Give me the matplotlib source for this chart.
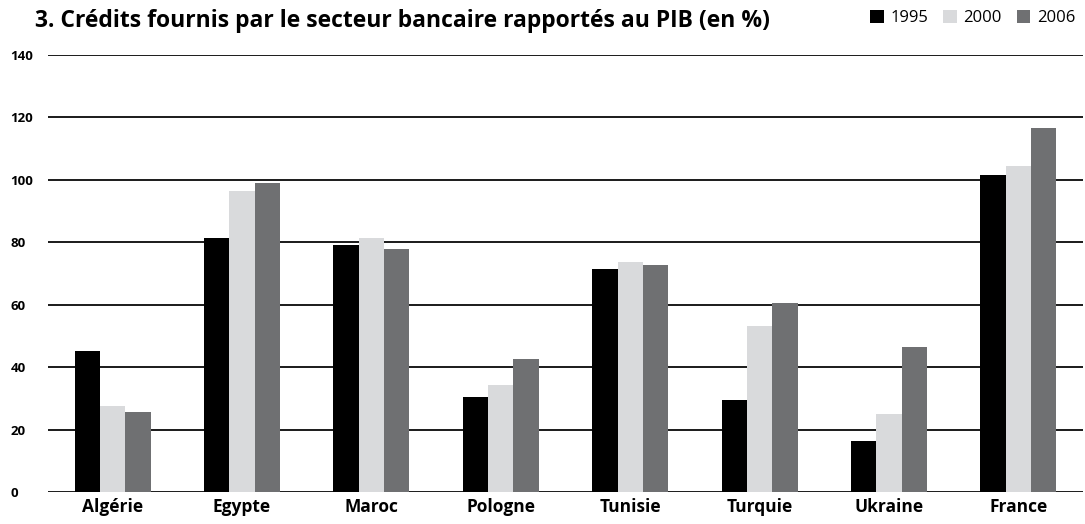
import matplotlib.pyplot as plt
import numpy as np
from matplotlib.patches import Patch

plt.rcParams['font.family'] = ['Open Sans', 'DejaVu Sans']

# Données
pays = ['Algérie', 'Egypte', 'Maroc', 'Pologne', 'Tunisie', 'Turquie', 'Ukraine', 'France']
annees = ['1995', '2000', '2006']
v1995 = [45.1, 81.5, 79.0, 30.4, 71.6, 29.5, 16.5, 101.5]
v2000 = [27.5, 96.4, 81.3, 34.4, 73.8, 53.2, 25.0, 104.4]
v2006 = [25.7, 98.9, 78.0, 42.6, 72.6, 60.5, 46.5, 116.5]
couleurs = ['#000000', '#d9dadc', '#6f7072']

fig = plt.figure(figsize=(10.85, 5.24), dpi=100)
ax = fig.add_axes([0.0442, 0.061, 0.954, 0.834])

x = np.arange(len(pays))
w = 0.196
for i, (vals, c) in enumerate(zip([v1995, v2000, v2006], couleurs)):
    ax.bar(x + (i - 1) * w, vals, w, color=c, zorder=2)

ax.set_xlim(-0.5, 7.5)
ax.set_ylim(0, 140)
ax.set_yticks(range(0, 141, 20))
ax.set_xticks(x)
ax.set_xticklabels(pays, fontsize=12.5, fontweight='bold')
ax.tick_params(axis='x', length=0, pad=4)
ax.tick_params(axis='y', length=0, pad=27, labelsize=9.5)
for lab in ax.get_yticklabels():
    lab.set_horizontalalignment('left')
    lab.set_fontweight('bold')

ax.grid(axis='y', color='#1a1a1a', lw=1.4)
ax.set_axisbelow(True)
for s in ax.spines.values():
    s.set_visible(False)

fig.text(0.032, 0.96, '3. Crédits fournis par le secteur bancaire rapportés au PIB (en %)',
         fontsize=16.5, fontweight='bold', va='center', ha='left')

handles = [Patch(facecolor=c, label=a) for c, a in zip(couleurs, annees)]
fig.legend(handles=handles, ncol=3, loc='center right', bbox_to_anchor=(1.0, 0.965),
           frameon=False, fontsize=12, handlelength=0.8, handleheight=0.8,
           handletextpad=0.4, columnspacing=0.9, borderaxespad=0.2)

fig.savefig('out.png', dpi=100)
